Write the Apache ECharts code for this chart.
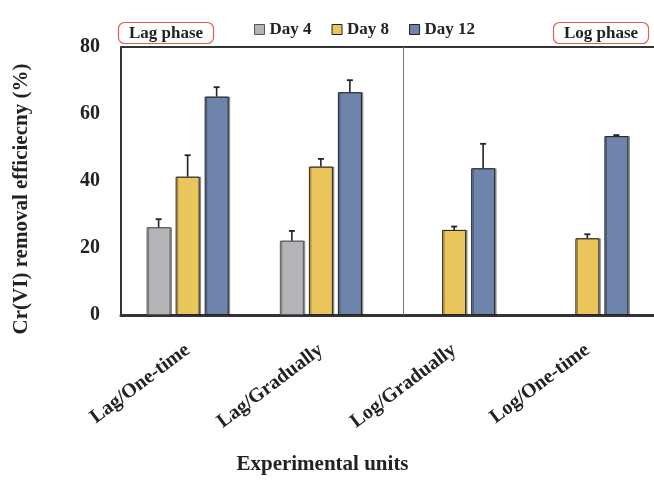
<!DOCTYPE html>
<html>
<head>
<meta charset="utf-8">
<script src="https://cdn.jsdelivr.net/npm/echarts@6/dist/echarts.min.js"></script>
<style>
  html, body { margin: 0; padding: 0; background: #fff; }
  #chart { width: 654px; height: 480px; }
</style>
</head>
<body>
<div id="chart"></div>
<script>
const categories = ['Lag/One-time', 'Lag/Gradually', 'Log/Gradually', 'Log/One-time'];
const seriesNames = ['Day 4', 'Day 8', 'Day 12'];
const day4 = [26.2, 22.2, null, null];
const day8 = [41.3, 44.3, 25.4, 22.9];
const day12 = [65.2, 66.5, 43.8, 53.4];
const day4Err = [2.4, 2.9, null, null];
const day8Err = [6.4, 2.3, 1.0, 1.2];
const day12Err = [2.8, 3.6, 7.3, 0.3];
const yTicks = [0, 20, 40, 60, 80];
const dividerAt = 2.12; // between Lag and Log groups

const FONT = '"Liberation Serif", "DejaVu Serif", serif';
const colors = ['#b3b4b7', '#e9c55b', '#6f84ac'];
const BAR_W = 24;
const BAR_STEP = 29;

const chart = echarts.init(document.getElementById('chart'));

// 误差线
function errorSeries(name, values, errs, slot) {
  const data = values.map((v, i) => (v == null ? null : [i, v, v + errs[i]]));
  return {
    name: name + ' err',
    type: 'custom',
    xAxisIndex: 0,
    yAxisIndex: 0,
    z: 5,
    silent: true,
    data: data.filter((d) => d),
    renderItem: (params, api) => {
      const base = api.coord([api.value(0), api.value(1)]);
      const top = api.coord([api.value(0), api.value(2)]);
      const x = base[0] + slot * BAR_STEP;
      return {
        type: 'group',
        children: [
          { type: 'line', shape: { x1: x, y1: base[1], x2: x, y2: top[1] }, style: { stroke: '#222', lineWidth: 1.6 } },
          { type: 'line', shape: { x1: x - 3, y1: top[1], x2: x + 3, y2: top[1] }, style: { stroke: '#222', lineWidth: 1.8 } },
        ],
      };
    },
  };
}

const barSeries = [day4, day8, day12].map((d, i) => ({
  name: seriesNames[i],
  type: 'bar',
  data: d,
  barWidth: BAR_W,
  barGap: '21%',
  itemStyle: {
    color: colors[i],
    borderColor: i === 0 ? '#555' : '#222',
    borderWidth: 1,
    shadowColor: 'rgba(0,0,0,0.35)',
    shadowOffsetX: 1.5,
    shadowBlur: 0,
  },
}));

const phaseBox = {
  top: 22,
  padding: [3, 11, 2, 11],
  borderColor: '#e0604c',
  borderWidth: 1.2,
  borderRadius: 6,
  textStyle: { fontFamily: FONT, fontWeight: 'bold', fontSize: 17, color: '#222' },
};

const options = {
  animation: false,
  title: [
    { ...phaseBox, text: 'Lag phase', left: 118 },
    { ...phaseBox, text: 'Log phase', left: 553 },
  ],
  legend: {
    data: seriesNames.map((n) => ({ name: n, icon: 'rect' })),
    left: 249,
    top: 16,
    itemWidth: 10,
    itemHeight: 10,
    itemGap: 20,
    itemStyle: { borderWidth: 1 },
    textStyle: { fontFamily: FONT, fontWeight: 'bold', fontSize: 17, color: '#222' },
  },
  grid: {
    left: 121,
    right: 0,
    top: 47,
    bottom: 158,
  },
  xAxis: [
    {
      type: 'category',
      data: categories,
      name: 'Experimental units',
      nameLocation: 'middle',
      nameGap: 139,
      nameTextStyle: { fontFamily: FONT, fontWeight: 'bold', fontSize: 21, color: '#222', padding: [0, 130, 0, 0] },
      axisLine: { lineStyle: { color: '#333', width: 3 } },
      axisTick: { show: false },
      axisLabel: {
        interval: 0,
        rotate: 37,
        margin: 33,
        fontFamily: FONT,
        fontWeight: 'bold',
        fontSize: 20,
        color: '#222',
      },
    },
    {
      type: 'value',
      min: 0,
      max: 4,
      show: false,
    },
    {
      type: 'category',
      position: 'top',
      data: categories,
      axisLine: { lineStyle: { color: '#333', width: 2 } },
      axisTick: { show: false },
      axisLabel: { show: false },
    },
  ],
  yAxis: {
    type: 'value',
    min: yTicks[0],
    max: yTicks[yTicks.length - 1],
    interval: 20,
    name: 'Cr(VI) removal efficiecny (%)',
    nameLocation: 'middle',
    nameGap: 89,
    nameTextStyle: { fontFamily: FONT, fontWeight: 'bold', fontSize: 21, color: '#222', padding: [0, 36, 0, 0] },
    axisLine: { show: true, lineStyle: { color: '#333', width: 2 } },
    axisTick: { show: false },
    splitLine: { show: false },
    axisLabel: {
      margin: 21,
      fontFamily: FONT,
      fontWeight: 'bold',
      fontSize: 20,
      color: '#222',
    },
  },
  series: [
    ...barSeries,
    errorSeries('Day 4', day4, day4Err, -1),
    errorSeries('Day 8', day8, day8Err, 0),
    errorSeries('Day 12', day12, day12Err, 1),
    {
      name: 'divider',
      type: 'line',
      xAxisIndex: 1,
      data: [],
      silent: true,
      markLine: {
        symbol: 'none',
        label: { show: false },
        lineStyle: { color: '#777', width: 1, type: 'solid' },
        data: [{ xAxis: dividerAt }],
      },
    },
  ],
};

chart.setOption(options);
</script>
</body>
</html>
